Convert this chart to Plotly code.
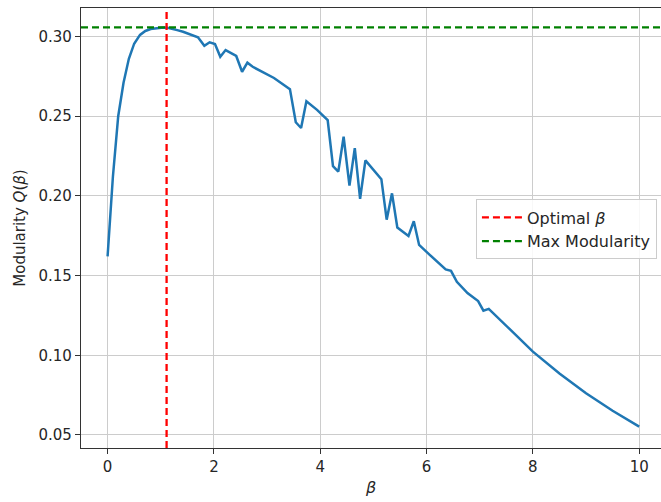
import plotly.graph_objects as go

# Data
beta = [0.00, 0.10, 0.20, 0.30, 0.40, 0.50, 0.61, 0.71, 0.81, 0.91,
        1.01, 1.11, 1.21, 1.31, 1.42, 1.52, 1.70, 1.82, 1.92, 2.02,
        2.12, 2.22, 2.42, 2.53, 2.63, 2.73, 2.93, 3.13, 3.43, 3.54,
        3.64, 3.74, 3.94, 4.14, 4.24, 4.34, 4.44, 4.55, 4.65, 4.75,
        4.85, 5.15, 5.25, 5.35, 5.45, 5.66, 5.76, 5.86, 6.06, 6.26,
        6.36, 6.46, 6.57, 6.77, 6.97, 7.07, 7.17, 7.58, 8.00, 8.50,
        9.00, 9.50, 10.00]
modularity = [0.162, 0.212, 0.250, 0.271, 0.286, 0.2955, 0.3010, 0.3035, 0.3047, 0.3052,
              0.3055, 0.3057, 0.3050, 0.3040, 0.3030, 0.3018, 0.2995, 0.2942, 0.2964, 0.2953,
              0.2873, 0.2915, 0.2878, 0.2779, 0.2836, 0.2810, 0.2775, 0.2740, 0.2670, 0.2462,
              0.2426, 0.2594, 0.2540, 0.2476, 0.2186, 0.2152, 0.2371, 0.2065, 0.2300, 0.1982,
              0.2223, 0.2105, 0.1851, 0.2016, 0.1802, 0.1749, 0.1841, 0.1692, 0.1630, 0.1570,
              0.1539, 0.1530, 0.1461, 0.1390, 0.1340, 0.1280, 0.1291, 0.1159, 0.1023, 0.0885,
              0.0762, 0.0652, 0.0552]
x_ticks = [0, 2, 4, 6, 8, 10]
y_ticks = [0.05, 0.10, 0.15, 0.20, 0.25, 0.30]
y_tick_labels = ["0.05", "0.10", "0.15", "0.20", "0.25", "0.30"]

i_best = max(range(len(modularity)), key=lambda i: modularity[i])
opt_beta = beta[i_best]
max_q = modularity[i_best]

x_range = [-0.5, 10.41]
y_range = [0.0418, 0.3179]

FONT = "DejaVu Sans"
TXT = "#262626"

fig = go.Figure()
fig.add_trace(go.Scatter(x=beta, y=modularity, mode="lines",
                         line=dict(color="#1f77b4", width=2.5),
                         showlegend=False, hoverinfo="skip"))
fig.add_trace(go.Scatter(x=[opt_beta, opt_beta], y=y_range, mode="lines",
                         line=dict(color="#ff0000", width=2.3, dash="7px,4px"),
                         name="Optimal <i>β</i>"))
fig.add_trace(go.Scatter(x=x_range, y=[max_q, max_q], mode="lines",
                         line=dict(color="#008000", width=2.3, dash="7px,4px"),
                         name="Max Modularity"))

fig.update_layout(
    width=661, height=502,
    margin=dict(l=81, r=0, t=8, b=54),
    paper_bgcolor="white", plot_bgcolor="white",
    font=dict(family=FONT, size=15, color=TXT),
    legend=dict(x=0.993, y=0.565, xanchor="right", yanchor="top",
                bgcolor="rgba(255,255,255,0.85)", bordercolor="#cccccc",
                borderwidth=1, font=dict(size=16, color=TXT),
                itemwidth=40),
)
fig.update_xaxes(range=x_range, tickvals=x_ticks, ticktext=[str(t) for t in x_ticks],
                 showgrid=True, gridcolor="#cccccc", gridwidth=1.3,
                 showline=True, linecolor="#333333", linewidth=1.4, mirror=True,
                 ticks="outside", ticklen=5, tickwidth=1.3, tickcolor="#333333", zeroline=False,
                 title=dict(text="<i>β</i>", font=dict(size=16), standoff=6),
                 tickfont=dict(size=15))
fig.update_yaxes(range=y_range, tickvals=y_ticks, ticktext=y_tick_labels,
                 showgrid=True, gridcolor="#cccccc", gridwidth=1.3,
                 showline=True, linecolor="#333333", linewidth=1.4, mirror=False,
                 ticks="outside", ticklen=5, tickwidth=1.3, tickcolor="#333333", zeroline=False,
                 title=dict(text="Modularity <i>Q</i>(<i>β</i>)", font=dict(size=15), standoff=9),
                 tickfont=dict(size=15))

fig.write_html("out.html")
